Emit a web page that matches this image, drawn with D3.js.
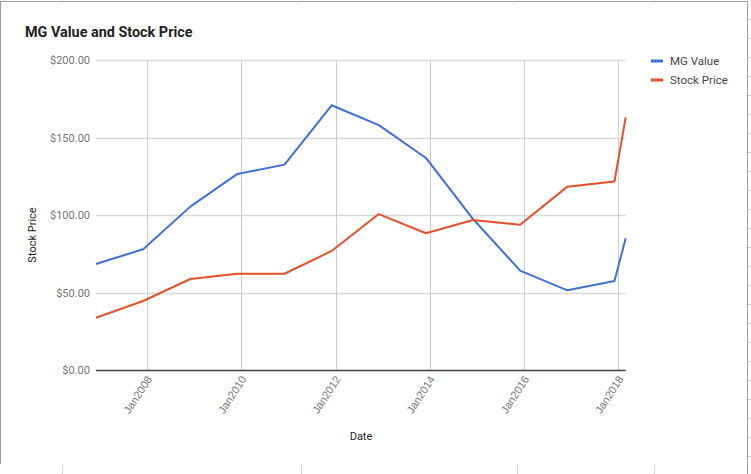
<!DOCTYPE html>
<html><head><meta charset="utf-8">
<script src="https://cdn.jsdelivr.net/npm/d3@7"></script>
<style>
body{margin:0;background:#fff;}
svg{display:block;font-family:Roboto, "Noto Sans", Arial, sans-serif;}
</style></head>
<body>
<svg id="chart" width="751" height="474"></svg>
<script>
// Data
const dates = ["2006-12-01","2007-12-01","2008-12-01","2009-12-01","2010-12-01","2011-12-01","2012-12-01","2013-12-01","2014-12-01","2015-12-01","2016-12-01","2017-12-01","2018-02-26"];
const mgValue = [68.4,77.9,105.4,126.5,132.5,170.8,158.0,136.8,97.4,64.1,51.4,57.4,85.0];
const stockPrice = [33.7,44.5,58.7,62.1,62.1,76.8,100.6,88.2,96.8,93.7,118.3,121.6,163.0];
const seriesNames = ["MG Value","Stock Price"];
const seriesColors = ["#3d70d8","#e4502a"];
const yTicks = [0,50,100,150,200];
const xTickDates = ["2008-01-01","2010-01-01","2012-01-01","2014-01-01","2016-01-01","2018-01-01"];

const parse = d3.timeParse("%Y-%m-%d");
const svg = d3.select("#chart");

// screenshot frame
const frame = svg.append("g").attr("stroke","#9e9e9e").attr("fill","none");
frame.append("line").attr("x1",0.5).attr("x2",0.5).attr("y1",1).attr("y2",464).attr("stroke-width",1.2);
frame.append("line").attr("x1",0).attr("x2",748).attr("y1",1.5).attr("y2",1.5);
frame.append("line").attr("x1",747.5).attr("x2",747.5).attr("y1",1).attr("y2",474);
const edgeTicks = svg.append("g").attr("stroke","#cfcfcf");
d3.range(19, 474, 19).forEach(y=>{
  edgeTicks.append("line").attr("x1",748).attr("x2",751).attr("y1",y+0.5).attr("y2",y+0.5);
});
[62,301,517,654].forEach(x=>{
  edgeTicks.append("line").attr("x1",x+0.5).attr("x2",x+0.5).attr("y1",465).attr("y2",474);
  edgeTicks.append("line").attr("x1",x+0.5).attr("x2",x+0.5).attr("y1",0).attr("y2",1);
});

// scales
const x = d3.scaleTime().domain([parse(dates[0]), parse(dates[dates.length-1])]).range([96, 625.7]);
const y = d3.scaleLinear().domain([0,200]).range([370,60]);

// Title
svg.append("text").attr("x",25).attr("y",37).text("MG Value and Stock Price")
  .attr("font-size",14.4).attr("font-weight","bold").attr("fill","#222");

// horizontal grid
const yAxis = d3.axisLeft(y).tickValues(yTicks).tickSize(0).tickPadding(6).tickFormat(d=>"$"+d3.format(".2f")(d));
const gy = svg.append("g").attr("transform","translate(96,0)").call(yAxis);
gy.select(".domain").remove();
gy.selectAll("text").attr("font-size",11).attr("fill","#757575").attr("font-family","Roboto, sans-serif");
svg.append("g").selectAll("line").data(yTicks.filter(d=>d>0)).join("line")
  .attr("x1",96).attr("x2",625.7).attr("y1",d=>Math.round(y(d))+0.5).attr("y2",d=>Math.round(y(d))+0.5)
  .attr("stroke","#d9d9d9").attr("stroke-width",1.5);

// vertical grid + x labels
const xAxis = d3.axisBottom(x).tickValues(xTickDates.map(parse)).tickSize(0).tickPadding(0).tickFormat(d3.timeFormat("Jan%Y"));
const gx = svg.append("g").attr("transform","translate(0,370)").call(xAxis);
gx.select(".domain").remove();
gx.selectAll("text").attr("font-size",11).attr("fill","#757575")
  .attr("text-anchor","end").attr("dy",0)
  .attr("transform","translate(5,9) rotate(-57)");
svg.append("g").selectAll("line").data(xTickDates.map(parse)).join("line")
  .attr("x1",d=>Math.round(x(d))+0.5).attr("x2",d=>Math.round(x(d))+0.5).attr("y1",60).attr("y2",370)
  .attr("stroke","#cccccc").attr("stroke-width",1);

// baseline
svg.append("line").attr("x1",96).attr("x2",625.7).attr("y1",370.5).attr("y2",370.5)
  .attr("stroke","#444").attr("stroke-width",1.3);

// lines
const line = d3.line().x((d,i)=>x(parse(dates[i]))).y(d=>y(d));
[mgValue, stockPrice].forEach((vals,k)=>{
  svg.append("path").datum(vals).attr("d",line).attr("fill","none")
    .attr("stroke",seriesColors[k]).attr("stroke-width",2).attr("stroke-linejoin","round");
});

// axis titles
svg.append("text").attr("x",361).attr("y",440).attr("text-anchor","middle").text("Date")
  .attr("font-size",11).attr("fill","#222");
svg.append("text").attr("transform","translate(36,235) rotate(-90)").attr("text-anchor","middle").text("Stock Price")
  .attr("font-size",11).attr("fill","#222");

// legend
const lg = svg.append("g");
seriesNames.forEach((n,i)=>{
  const yy = 61 + i*19;
  lg.append("rect").attr("x",651).attr("y",yy-1.5).attr("width",12).attr("height",3).attr("fill",seriesColors[i]);
  lg.append("text").attr("x",670).attr("y",yy+4).text(n).attr("font-size",11.5).attr("fill","#444");
});
</script>
</body></html>
